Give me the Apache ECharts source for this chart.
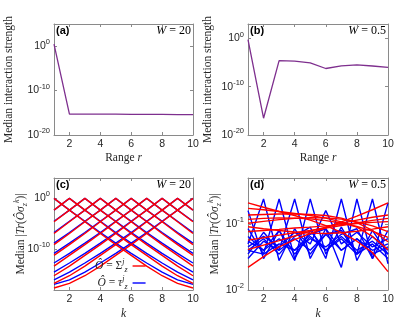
<!DOCTYPE html>
<html>
<head>
<meta charset="utf-8">
<script src="https://cdn.jsdelivr.net/npm/echarts@6/dist/echarts.min.js"></script>
<style>
html, body { margin: 0; padding: 0; background: #fff; }
#chart { width: 415px; height: 327px; }
</style>
</head>
<body>
<div id="chart"></div>
<script>
// x positions
var rangeR = [1, 2, 3, 4, 5, 6, 7, 8, 9, 10];
var kSites = [1, 2, 3, 4, 5, 6, 7, 8, 9, 10];
var xTicks = [2, 4, 6, 8, 10];

// (a), (b) median interaction strength
var strengthW20 = [3, 5e-16, 5e-16, 5e-16, 5e-16, 4.5e-16, 4.5e-16, 4.5e-16, 4e-16, 4e-16];
var strengthW05 = [0.6, 3e-17, 2.5e-5, 2e-5, 9e-6, 6e-7, 2.2e-6, 3.5e-6, 2e-6, 1e-6];
var yTicksTop = [1e-20, 1e-10, 1];

// (c) W = 20, log10 of median |Tr(O sigma_z^k)|, one row per j
var sigmaW20Exp = [
  [0, -2.3, -4.6, -6.9, -9.1, -11.2, -13.3, -15.2, -16.7, -17.6],
  [-2.3, 0, -2.3, -4.6, -6.9, -9.1, -11.2, -13.3, -15.2, -16.7],
  [-4.6, -2.3, 0, -2.3, -4.6, -6.9, -9.1, -11.2, -13.3, -15.2],
  [-6.9, -4.6, -2.3, 0, -2.3, -4.6, -6.9, -9.1, -11.2, -13.3],
  [-9.1, -6.9, -4.6, -2.3, 0, -2.3, -4.6, -6.9, -9.1, -11.2],
  [-11.2, -9.1, -6.9, -4.6, -2.3, 0, -2.3, -4.6, -6.9, -9.1],
  [-13.3, -11.2, -9.1, -6.9, -4.6, -2.3, 0, -2.3, -4.6, -6.9],
  [-15.2, -13.3, -11.2, -9.1, -6.9, -4.6, -2.3, 0, -2.3, -4.6],
  [-16.7, -15.2, -13.3, -11.2, -9.1, -6.9, -4.6, -2.3, 0, -2.3],
  [-17.6, -16.7, -15.2, -13.3, -11.2, -9.1, -6.9, -4.6, -2.3, 0]
];
var tauW20Exp = [
  [0, -2.3, -4.5, -6.7, -8.8, -10.8, -12.7, -14.5, -16.0, -16.9],
  [-2.3, 0, -2.3, -4.5, -6.7, -8.8, -10.8, -12.7, -14.5, -16.0],
  [-4.5, -2.3, 0, -2.3, -4.5, -6.7, -8.8, -10.8, -12.7, -14.5],
  [-6.7, -4.5, -2.3, 0, -2.3, -4.5, -6.7, -8.8, -10.8, -12.7],
  [-8.8, -6.7, -4.5, -2.3, 0, -2.3, -4.5, -6.7, -8.8, -10.8],
  [-10.8, -8.8, -6.7, -4.5, -2.3, 0, -2.3, -4.5, -6.7, -8.8],
  [-12.7, -10.8, -8.8, -6.7, -4.5, -2.3, 0, -2.3, -4.5, -6.7],
  [-14.5, -12.7, -10.8, -8.8, -6.7, -4.5, -2.3, 0, -2.3, -4.5],
  [-16.0, -14.5, -12.7, -10.8, -8.8, -6.7, -4.5, -2.3, 0, -2.3],
  [-16.9, -16.0, -14.5, -12.7, -10.8, -8.8, -6.7, -4.5, -2.3, 0]
];

// (d) W = 0.5, median |Tr(O sigma_z^k)|
var sigmaW05 = [
  [0.21, 0.18, 0.155, 0.135, 0.115, 0.095, 0.075, 0.055, 0.037, 0.019],
  [0.022, 0.032, 0.045, 0.058, 0.072, 0.088, 0.108, 0.132, 0.165, 0.21],
  [0.173, 0.165, 0.155, 0.145, 0.135, 0.123, 0.108, 0.09, 0.065, 0.041],
  [0.041, 0.048, 0.056, 0.066, 0.078, 0.09, 0.103, 0.115, 0.127, 0.137],
  [0.137, 0.14, 0.142, 0.142, 0.14, 0.135, 0.123, 0.105, 0.08, 0.054],
  [0.057, 0.062, 0.068, 0.074, 0.08, 0.087, 0.095, 0.104, 0.114, 0.122],
  [0.118, 0.122, 0.124, 0.123, 0.12, 0.113, 0.104, 0.092, 0.078, 0.063],
  [0.077, 0.08, 0.083, 0.087, 0.09, 0.094, 0.098, 0.102, 0.106, 0.109],
  [0.103, 0.11, 0.117, 0.122, 0.125, 0.124, 0.119, 0.108, 0.094, 0.077],
  [0.091, 0.085, 0.08, 0.076, 0.073, 0.072, 0.074, 0.078, 0.084, 0.091]
];
var tauW05 = [
  [0.16, 0.03, 0.08, 0.035, 0.065, 0.04, 0.06, 0.035, 0.05, 0.03],
  [0.05, 0.24, 0.028, 0.085, 0.035, 0.07, 0.04, 0.06, 0.035, 0.045],
  [0.085, 0.035, 0.24, 0.03, 0.08, 0.04, 0.065, 0.04, 0.055, 0.035],
  [0.035, 0.075, 0.04, 0.24, 0.03, 0.085, 0.04, 0.06, 0.04, 0.05],
  [0.065, 0.04, 0.08, 0.028, 0.24, 0.035, 0.09, 0.035, 0.065, 0.04],
  [0.045, 0.065, 0.045, 0.075, 0.05, 0.16, 0.05, 0.075, 0.045, 0.06],
  [0.04, 0.06, 0.035, 0.065, 0.09, 0.03, 0.24, 0.028, 0.08, 0.035],
  [0.055, 0.04, 0.06, 0.04, 0.07, 0.085, 0.022, 0.24, 0.03, 0.08],
  [0.03, 0.055, 0.04, 0.06, 0.04, 0.07, 0.08, 0.035, 0.24, 0.025],
  [0.04, 0.035, 0.05, 0.04, 0.06, 0.045, 0.07, 0.085, 0.03, 0.21]
];
var yTicksD = [0.01, 0.1];

var serif = '"Liberation Serif", "DejaVu Serif", serif';
var sans = '"Liberation Sans", Arial, sans-serif';
var axisCol = '#8a8a8a';
var textCol = '#262626';
var purple = '#7e2f8e';
var red = '#ff0000';
var blue = '#0000ff';

var supRich = {
  b: { fontFamily: sans, fontSize: 10.5, color: textCol, lineHeight: 16 },
  s: { fontFamily: sans, fontSize: 7.5, color: textCol, lineHeight: 9, verticalAlign: 'top' }
};
function powLabel(v) {
  return '{b|10}{s|' + Math.round(Math.log10(v)) + '}';
}
var mathRich = {
  n: { fontFamily: serif, fontSize: 11.5, color: textCol, lineHeight: 16 },
  i: { fontFamily: serif, fontSize: 11.5, fontStyle: 'italic', color: textCol, lineHeight: 16 },
  sp: { fontFamily: serif, fontSize: 8, fontStyle: 'italic', color: textCol, lineHeight: 9, verticalAlign: 'top' },
  sb: { fontFamily: serif, fontSize: 8, fontStyle: 'italic', color: textCol, lineHeight: 9, verticalAlign: 'bottom' }
};

var grids = [
  { left: 54, top: 24, width: 139, height: 111 },
  { left: 248, top: 24, width: 140, height: 111 },
  { left: 54, top: 178, width: 139, height: 112 },
  { left: 248, top: 178, width: 140, height: 112 }
];

var xAxes = [];
var yAxes = [];
function addPanel(g, yMin, yMax, yTicks, xName, xGap, yName, yGap) {
  xAxes.push({
    gridIndex: g, type: 'value', min: 1, max: 10, position: 'bottom',
    axisLine: { show: true, onZero: false, lineStyle: { color: axisCol, width: 1 } },
    axisTick: { show: true, inside: true, length: 3, customValues: xTicks, lineStyle: { color: axisCol } },
    axisLabel: { customValues: xTicks, fontFamily: sans, fontSize: 10.5, color: textCol, margin: 4 },
    splitLine: { show: false },
    name: xName, nameLocation: 'middle', nameGap: xGap, nameMoveOverlap: false,
    nameTextStyle: { fontFamily: serif, fontSize: 11.5, color: textCol, rich: mathRich }
  });
  xAxes.push({
    gridIndex: g, type: 'value', min: 1, max: 10, position: 'top',
    axisLine: { show: true, onZero: false, lineStyle: { color: axisCol, width: 1 } },
    axisTick: { show: true, inside: true, length: 3, customValues: xTicks, lineStyle: { color: axisCol } },
    axisLabel: { show: false },
    splitLine: { show: false }
  });
  yAxes.push({
    gridIndex: g, type: 'log', logBase: 10, min: yMin, max: yMax, position: 'left',
    axisLine: { show: true, onZero: false, lineStyle: { color: axisCol, width: 1 } },
    axisTick: { show: true, inside: true, length: 3, customValues: yTicks, lineStyle: { color: axisCol } },
    axisLabel: { customValues: yTicks, formatter: powLabel, rich: supRich, margin: 4 },
    splitLine: { show: false },
    name: yName, nameLocation: 'middle', nameGap: yGap, nameMoveOverlap: false,
    nameTextStyle: { fontFamily: serif, fontSize: 11.5, color: textCol, rich: mathRich }
  });
  yAxes.push({
    gridIndex: g, type: 'log', logBase: 10, min: yMin, max: yMax, position: 'right',
    axisLine: { show: true, onZero: false, lineStyle: { color: axisCol, width: 1 } },
    axisTick: { show: true, inside: true, length: 3, customValues: yTicks, lineStyle: { color: axisCol } },
    axisLabel: { show: false },
    splitLine: { show: false }
  });
}

var trName = '{n|Median |}{i|Tr}{n|(}{i|Ôσ}{sb|z}{sp|k}{n|)|}';
addPanel(0, 1e-20, 1e5, yTicksTop, '{n|Range }{i|r}', 15, '{n|Median interaction strength}', 37);
addPanel(1, 1e-20, 1e3, yTicksTop, '{n|Range }{i|r}', 15, '{n|Median interaction strength}', 32);
addPanel(2, 1e-18, 1e4, yTicksTop, '{i|k}', 16, trName, 25);
addPanel(3, 0.01, 0.5, yTicksD, '{i|k}', 16, trName, 25);

function pairs(xs, ys) {
  return xs.map(function (x, i) { return [x, ys[i]]; });
}
function pairsExp(xs, es) {
  return xs.map(function (x, i) { return [x, Math.pow(10, es[i])]; });
}
function lineSeries(g, name, data, color, width) {
  return {
    type: 'line', name: name, xAxisIndex: 2 * g, yAxisIndex: 2 * g,
    data: data, symbol: 'none', showSymbol: false, silent: true,
    lineStyle: { color: color, width: width }, itemStyle: { color: color }
  };
}

var series = [];
series.push(lineSeries(0, 'strength20', pairs(rangeR, strengthW20), purple, 1.3));
series.push(lineSeries(1, 'strength05', pairs(rangeR, strengthW05), purple, 1.3));
tauW20Exp.forEach(function (row) { series.push(lineSeries(2, 'tau', pairsExp(kSites, row), blue, 1.4)); });
sigmaW20Exp.forEach(function (row) { series.push(lineSeries(2, 'sig', pairsExp(kSites, row), red, 1.4)); });
tauW05.forEach(function (row) { series.push(lineSeries(3, 'tau', pairs(kSites, row), blue, 1.4)); });
sigmaW05.forEach(function (row) { series.push(lineSeries(3, 'sig', pairs(kSites, row), red, 1.4)); });

function panelText(x, y, text, align) {
  return {
    type: 'text', x: x, y: y, silent: true,
    style: {
      text: text, textAlign: align, textVerticalAlign: 'middle',
      rich: {
        lab: { fontFamily: sans, fontSize: 11, fontWeight: 'bold', color: '#111' },
        i: { fontFamily: serif, fontSize: 12, fontStyle: 'italic', color: '#222' },
        n: { fontFamily: serif, fontSize: 12, color: '#222' }
      }
    }
  };
}

var chart = echarts.init(document.getElementById('chart'), null, { renderer: 'canvas' });
chart.setOption({
  animation: false,
  backgroundColor: '#fff',
  grid: grids,
  xAxis: xAxes,
  yAxis: yAxes,
  legend: {
    data: ['sig', 'tau'],
    left: 95, top: 258, orient: 'vertical', align: 'right',
    itemWidth: 13, itemHeight: 8, itemGap: 1, padding: 0,
    selectedMode: false,
    itemStyle: { opacity: 0 },
    lineStyle: { width: 1.4 },
    formatter: function (n) {
      return n === 'sig' ? '{i|Ô}{n| = Σ}{sp|j}{sb|z}' : '{i|Ô}{n| = }{i|τ}{sp|j}{sb|z}';
    },
    textStyle: { rich: mathRich }
  },
  graphic: [
    panelText(56, 31, '{lab|(a)}', 'left'),
    panelText(191, 31, '{i|W}{n| = 20}', 'right'),
    panelText(250, 31, '{lab|(b)}', 'left'),
    panelText(386, 31, '{i|W}{n| = 0.5}', 'right'),
    panelText(56, 185, '{lab|(c)}', 'left'),
    panelText(191, 185, '{i|W}{n| = 20}', 'right'),
    panelText(250, 185, '{lab|(d)}', 'left'),
    panelText(386, 185, '{i|W}{n| = 0.5}', 'right')
  ],
  series: series
});
</script>
</body>
</html>
